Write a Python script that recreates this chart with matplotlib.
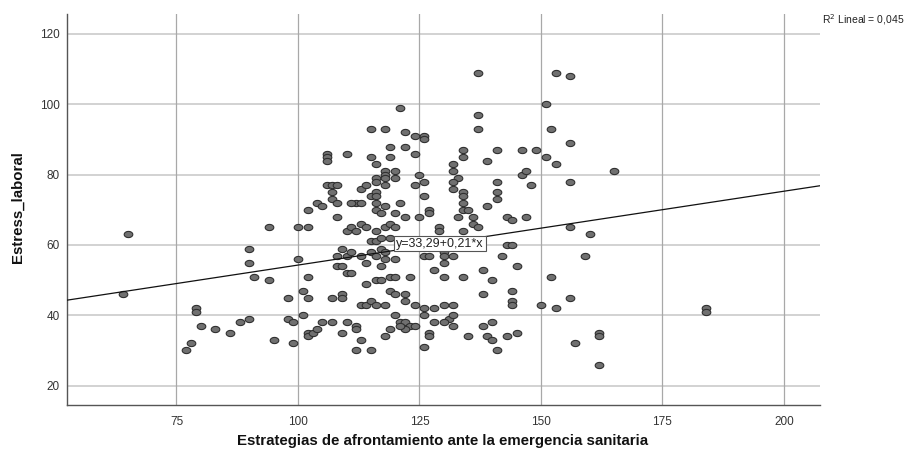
import numpy as np
import matplotlib
matplotlib.use("Agg")
import matplotlib.pyplot as plt
from matplotlib.path import Path

# ---- data ----
x_vals = [
    65, 64, 79, 79, 80, 77, 78, 83, 86, 88, 90, 90, 90, 91, 94, 94, 95, 98, 98, 99, 99,
    100, 102, 100, 102, 101, 102, 101, 102, 102, 103, 104, 105, 102, 104, 105,
    106, 106, 106, 110, 106, 107, 108, 107, 107, 108, 108, 107, 109, 110, 107, 109, 109,
    108, 109, 110, 111, 108, 110, 111, 109, 110,
    111, 112, 113, 114, 112, 113, 113, 114, 115, 113, 114, 115, 114, 113, 114, 115, 115,
    112, 112, 113, 112, 115, 115, 115, 111,
    116, 116, 116, 118, 118, 120, 120, 118, 118, 116, 116, 116, 116, 117, 118, 120, 119,
    119, 118, 121, 116, 118, 119, 120, 116, 117, 119, 117, 118, 116, 117, 118, 120, 116,
    117, 119, 120, 119, 120, 116, 118, 120, 121, 119, 118,
    122, 124, 122, 124, 125, 124, 121, 122, 125, 123, 122, 122, 124, 122, 123, 124, 122, 121,
    126, 126, 126, 126, 127, 127, 129, 129, 126, 127, 130, 130, 130, 128, 130, 126, 126,
    128, 130, 131, 130, 128, 127, 127, 126,
    134, 134, 132, 132, 133, 132, 132, 134, 134, 134, 134, 135, 133, 134, 132, 134, 132,
    132, 132, 135,
    137, 137, 137, 139, 139, 136, 136, 137, 138, 140, 138, 138, 140, 139, 140,
    141, 141, 141, 141, 143, 144, 143, 144, 142, 145, 144, 144, 144, 141, 143, 145,
    146, 149, 146, 147, 148, 147, 150,
    153, 156, 151, 152, 156, 151, 153, 165, 156, 156, 160, 159, 152, 156, 153, 162, 162,
    157, 162,
    184, 184,
]
y_vals = [
    63, 46, 42, 41, 37, 30, 32, 36, 35, 38, 39, 59, 55, 51, 50, 65, 33, 45, 39, 38, 32,
    65, 65, 56, 51, 47, 45, 40, 35, 34, 35, 36, 38, 70, 72, 71,
    86, 85, 84, 86, 77, 77, 77, 75, 73, 72, 68, 38, 35, 38, 45, 46, 45,
    54, 54, 52, 52, 57, 57, 58, 59, 64,
    65, 64, 66, 65, 72, 72, 76, 77, 74, 43, 43, 44, 49, 57, 55, 58, 61,
    37, 36, 33, 30, 30, 93, 85, 72,
    83, 79, 78, 81, 80, 81, 79, 79, 77, 75, 74, 72, 70, 69, 71, 69, 88,
    85, 93, 99, 64, 65, 66, 65, 61, 62, 62, 59, 58, 57, 54, 56, 56, 50,
    50, 51, 51, 47, 46, 43, 43, 40, 38, 36, 34,
    92, 91, 88, 86, 80, 77, 72, 68, 68, 51, 46, 44, 43, 38, 37, 37, 36, 37,
    91, 90, 78, 74, 70, 69, 65, 64, 57, 57, 58, 57, 55, 53, 51, 42, 40,
    42, 43, 39, 38, 38, 35, 34, 31,
    87, 85, 83, 81, 79, 78, 76, 75, 74, 72, 70, 70, 68, 64, 57, 51, 43,
    40, 37, 34,
    109, 97, 93, 84, 71, 68, 66, 65, 53, 50, 46, 37, 38, 34, 33,
    87, 78, 75, 73, 68, 67, 60, 60, 57, 54, 47, 44, 43, 30, 34, 35,
    87, 87, 80, 81, 77, 68, 43,
    109, 108, 100, 93, 89, 85, 83, 81, 78, 65, 63, 57, 51, 45, 42, 35, 34,
    32, 26,
    42, 41,
]

intercept = 33.29
slope = 0.21
r2_text = "R$^2$ Lineal = 0,045"
eq_text = "y=33,29+0,21*x"
x_label = "Estrategias de afrontamiento ante la emergencia sanitaria"
y_label = "Estress_laboral"
x_ticks = [75, 100, 125, 150, 175, 200]
y_ticks = [20, 40, 60, 80, 100, 120]

# ---- figure ----
plt.rcParams['font.family'] = ['Liberation Sans', 'DejaVu Sans']
fig = plt.figure(figsize=(9.12, 4.5), dpi=100)
ax = fig.add_axes([0.0731, 0.1, 0.899 - 0.0731, 0.969 - 0.1])

ax.set_xlim(52.4, 207.4)
ax.set_ylim(14.5, 125.7)

# grid
for yt in y_ticks:
    ax.axhline(yt, color='#d2d2d2', lw=1.4, zorder=0)
for xt in x_ticks:
    ax.axvline(xt, color='#a8a8a8', lw=0.9, zorder=0)

# ellipse marker (slightly wider than tall, like the reference)
t = np.linspace(0, 2 * np.pi, 40)
ell = Path(np.column_stack([np.cos(t), 0.72 * np.sin(t)]), closed=True)

ax.plot(x_vals, y_vals, linestyle='none', marker=ell, markersize=6.2,
        markerfacecolor='#707070', markeredgecolor='#303030', markeredgewidth=0.8,
        zorder=3)

# fit line
xl = np.array(ax.get_xlim())
ax.plot(xl, intercept + slope * xl, color='#111111', lw=0.9, zorder=4)

# equation box
ax.text(120.2, 60.4, eq_text, ha='left', va='center', fontsize=9, color='#222222',
        bbox=dict(boxstyle='square,pad=0.15', facecolor='white', edgecolor='#555555', lw=0.8),
        zorder=5)

# R^2 text
fig.text(822 / 912, 1 - 20 / 450, r2_text, ha='left', va='center', fontsize=7.5, color='#222222')

ax.set_xticks(x_ticks)
ax.set_yticks(y_ticks)
ax.tick_params(axis='both', length=0, labelsize=8.5, labelcolor='#333333')
ax.tick_params(axis='x', pad=8)
ax.tick_params(axis='y', pad=5)

for s in ['top', 'right']:
    ax.spines[s].set_visible(False)
for s in ['left', 'bottom']:
    ax.spines[s].set_color('#555555')
    ax.spines[s].set_linewidth(1.0)

fig.text(443 / 912, 1 - 441 / 450, x_label, ha='center', va='center',
         fontsize=10.8, fontweight='bold', color='#111111')
fig.text(18 / 912, 1 - 207 / 450, y_label, ha='center', va='center', rotation=90,
         fontsize=10.8, fontweight='bold', color='#111111')

fig.savefig('out.png', dpi=100)
